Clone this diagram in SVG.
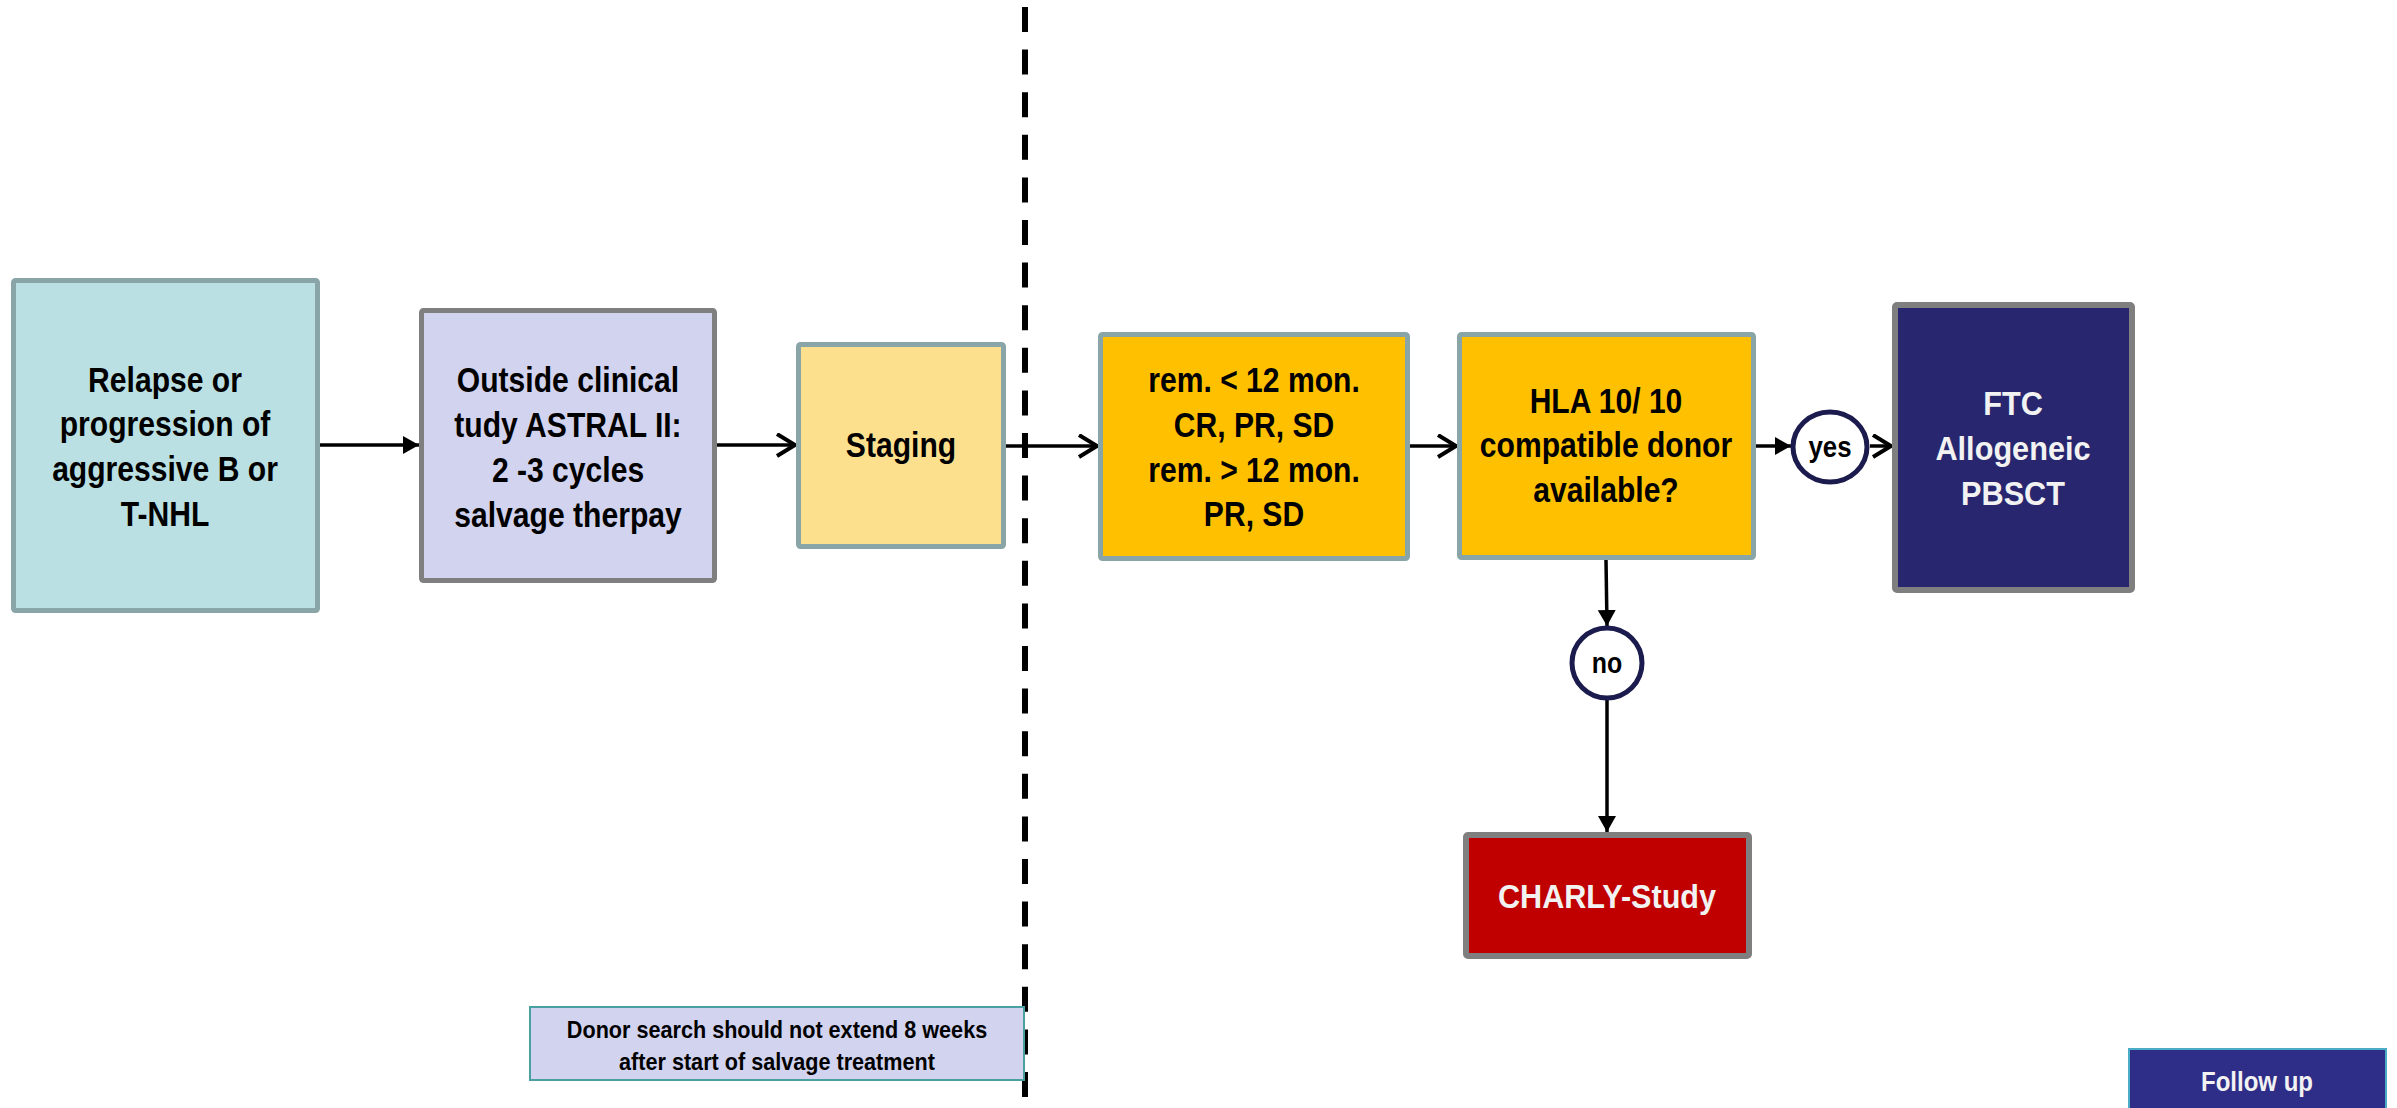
<svg xmlns="http://www.w3.org/2000/svg" width="2397" height="1108" viewBox="0 0 2397 1108">
<defs>
<style>
.t{font-family:"Liberation Sans",Arial,sans-serif;font-weight:bold;text-anchor:middle;fill:#000}
.w{fill:#F2F2F2}
.box{stroke-width:5}
.ln{stroke:#000;stroke-width:3.5;fill:none}
</style>
<marker id="tri" markerUnits="userSpaceOnUse" markerWidth="18" markerHeight="20" refX="16" refY="9" orient="auto" viewBox="0 0 18 20"><path d="M0,0 L16,9 L0,18 z" fill="#000"/></marker>
<marker id="chev" markerUnits="userSpaceOnUse" markerWidth="24" markerHeight="28" refX="20" refY="12" orient="auto" viewBox="0 0 24 28"><path d="M2,1 L20,12 L2,23" fill="none" stroke="#000" stroke-width="4"/></marker>
</defs>
<rect width="2397" height="1108" fill="#fff"/>
<line x1="1025" y1="7" x2="1025" y2="1108" stroke="#000" stroke-width="6" stroke-dasharray="25 17.6"/>
<g id="connectors">
<line class="ln" x1="320" y1="445" x2="419" y2="445" marker-end="url(#tri)"/>
<line class="ln" x1="717" y1="445" x2="795" y2="445" marker-end="url(#chev)"/>
<line class="ln" x1="1006" y1="446" x2="1097" y2="446" marker-end="url(#chev)"/>
<line class="ln" x1="1410" y1="446" x2="1456" y2="446" marker-end="url(#chev)"/>
<line class="ln" x1="1756" y1="446" x2="1791" y2="446" marker-end="url(#tri)"/>
<line class="ln" x1="1870" y1="446" x2="1891" y2="446" marker-end="url(#chev)"/>
<line class="ln" x1="1606" y1="560" x2="1607" y2="626" marker-end="url(#tri)"/>
<line class="ln" x1="1607" y1="700" x2="1607" y2="832" marker-end="url(#tri)"/>
</g>
<g id="n1">
<rect class="box" x="13.5" y="280.5" width="304" height="330" rx="2" fill="#BBE0E3" stroke="#8AA5A7"/>
<text class="t" font-size="35" transform="translate(165 0) scale(0.86 1)"><tspan x="0" y="392">Relapse or</tspan><tspan x="0" y="436">progression of</tspan><tspan x="0" y="481">aggressive B or</tspan><tspan x="0" y="526">T-NHL</tspan></text>
</g>
<g id="n2">
<rect class="box" x="421.5" y="310.5" width="293" height="270" rx="2" fill="#D2D3EF" stroke="#7F7F7F"/>
<text class="t" font-size="35" transform="translate(568 0) scale(0.86 1)"><tspan x="0" y="392">Outside clinical</tspan><tspan x="0" y="437">tudy ASTRAL II:</tspan><tspan x="0" y="482">2 -3 cycles</tspan><tspan x="0" y="527">salvage therpay</tspan></text>
</g>
<g id="n3">
<rect class="box" x="798.5" y="344.5" width="205" height="202" rx="2" fill="#FDE08E" stroke="#8AA5A7"/>
<text class="t" font-size="35" transform="translate(901 0) scale(0.86 1)" x="0" y="457">Staging</text>
</g>
<g id="n4">
<rect class="box" x="1100.5" y="334.5" width="307" height="224" rx="2" fill="#FFC000" stroke="#8AA5A7"/>
<text class="t" font-size="35" transform="translate(1254 0) scale(0.86 1)"><tspan x="0" y="392">rem. &lt; 12 mon.</tspan><tspan x="0" y="437">CR, PR, SD</tspan><tspan x="0" y="482">rem. &gt; 12 mon.</tspan><tspan x="0" y="526">PR, SD</tspan></text>
</g>
<g id="n5">
<rect class="box" x="1459.5" y="334.5" width="294" height="223" rx="2" fill="#FFC000" stroke="#8AA5A7"/>
<text class="t" font-size="35" transform="translate(1606 0) scale(0.86 1)"><tspan x="0" y="413">HLA 10/ 10</tspan><tspan x="0" y="457">compatible donor</tspan><tspan x="0" y="502">available?</tspan></text>
</g>
<g id="yes">
<ellipse cx="1830" cy="447" rx="37" ry="35" fill="#fff" stroke="#1C1B4D" stroke-width="5"/>
<text class="t" font-size="30" transform="translate(1830 0) scale(0.86 1)" x="0" y="457">yes</text>
</g>
<g id="n6">
<rect x="1895" y="305" width="237" height="285" rx="2" fill="#28266F" stroke="#7F7F7F" stroke-width="6"/>
<text class="t w" font-size="33" transform="translate(2013 0) scale(0.93 1)"><tspan x="0" y="415">FTC</tspan><tspan x="0" y="460">Allogeneic</tspan><tspan x="0" y="505">PBSCT</tspan></text>
</g>
<g id="no">
<circle cx="1607" cy="663" r="35" fill="#fff" stroke="#1C1B4D" stroke-width="5"/>
<text class="t" font-size="29" transform="translate(1607 0) scale(0.86 1)" x="0" y="673">no</text>
</g>
<g id="n7">
<rect x="1466" y="835" width="283" height="121" rx="2" fill="#C00000" stroke="#7F7F7F" stroke-width="6"/>
<text class="t w" font-size="34" transform="translate(1607 0) scale(0.9 1)" x="0" y="908">CHARLY-Study</text>
</g>
<g id="note">
<rect x="530" y="1007" width="494" height="73" fill="#D2D3EF" stroke="#4A9FA0" stroke-width="2"/>
<text class="t" font-size="23" transform="translate(777 0) scale(0.94 1)"><tspan x="0" y="1038">Donor search should not extend 8 weeks</tspan><tspan x="0" y="1070">after start of salvage treatment</tspan></text>
</g>
<g id="followup">
<rect x="2129" y="1049" width="257" height="70" fill="#2E2D87" stroke="#4BACC6" stroke-width="2"/>
<text class="t w" font-size="27" transform="translate(2257 0) scale(0.89 1)" x="0" y="1091">Follow up</text>
</g>
</svg>
